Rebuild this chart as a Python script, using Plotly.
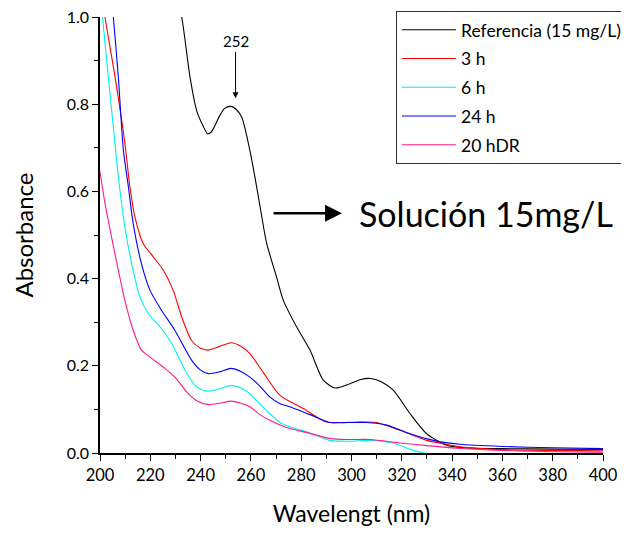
import plotly.graph_objects as go

# ---- data ----
ref_x = [228, 232.5, 235.8, 238.4, 241, 242.8, 244, 245.1, 247.7, 249.7, 252.1, 254, 256.3, 259.6, 263, 266.3,
         270.2, 272.9, 278.2, 283.5, 288.8, 293.5, 299.4, 303.4, 307.4, 312, 316.6, 323.3, 329.9,
         337.8, 345, 360, 380, 400]
ref_y = [1.12, 1.0, 0.862, 0.786, 0.75, 0.732, 0.735, 0.744, 0.775, 0.791, 0.795, 0.789, 0.771, 0.694, 0.587, 0.48,
         0.404, 0.35, 0.289, 0.236, 0.167, 0.149, 0.159, 0.168, 0.171, 0.163, 0.144, 0.090, 0.044,
         0.018, 0.012, 0.010, 0.009, 0.008]

h3_x = [201.5, 202, 206, 209.9, 211.9, 213.9, 217.2, 221.2, 225.2, 229.1, 232.5, 236.4, 240, 243.1,
        247.5, 252.1, 256, 259.6, 264.9, 271.6, 280.8, 290.1, 296, 303.4, 310, 319.3, 329.9, 337.8,
        345, 360, 380, 400]
h3_y = [1.03, 1.0, 0.862, 0.71, 0.61, 0.541, 0.48, 0.45, 0.419, 0.373, 0.312, 0.258, 0.24, 0.236,
        0.244, 0.253, 0.245, 0.228, 0.185, 0.132, 0.102, 0.071, 0.07, 0.071, 0.07, 0.052, 0.029, 0.02,
        0.013, 0.008, 0.006, 0.005]

h6_x = [200.6, 201, 203.3, 205.3, 207.3, 209.9, 212.6, 215.9, 219.2, 223.9, 228.5, 233.8, 237.8, 240.5,
        243.1, 247.5, 252.1, 256, 259.6, 263.6, 267.6, 271.6, 275.5, 283.5, 291.5, 299.5, 307.4, 316.6,
        324.6, 332.5, 340, 350, 370, 400]
h6_y = [1.03, 1.0, 0.862, 0.748, 0.633, 0.518, 0.434, 0.358, 0.32, 0.289, 0.251, 0.19, 0.155, 0.145,
        0.142, 0.147, 0.155, 0.149, 0.136, 0.112, 0.09, 0.07, 0.06, 0.046, 0.029, 0.027, 0.029, 0.023,
        0.006, -0.005, -0.015, -0.025, -0.03, -0.03]

h24_x = [204.8, 205.3, 207.3, 209.3, 211.3, 213.2, 216.5, 219.9, 224.5, 229.8, 236.4, 240, 243.1, 247.5,
         252.1, 256, 259.6, 263.6, 267.6, 271.6, 275.5, 283.5, 291.5, 299, 306, 314, 323.3, 332.5, 343,
         360, 380, 400]
h24_y = [1.03, 1.0, 0.862, 0.694, 0.61, 0.526, 0.434, 0.373, 0.327, 0.281, 0.213, 0.19, 0.182, 0.186,
         0.194, 0.187, 0.174, 0.153, 0.128, 0.113, 0.106, 0.088, 0.07, 0.07, 0.07, 0.064, 0.044, 0.029, 0.02,
         0.015, 0.012, 0.010]

hdr_x = [200, 202, 204.6, 207.3, 209.9, 213.2, 216.5, 220.6, 225.8, 229.8, 235.1, 239, 243.1, 247.5,
         252.1, 256, 259.6, 263.6, 267.6, 271.6, 275.5, 283.5, 291.5, 299.5, 307.4, 319.3, 329.9, 341.6,
         360, 380, 400]
hdr_y = [0.645, 0.572, 0.495, 0.419, 0.35, 0.281, 0.236, 0.217, 0.194, 0.174, 0.136, 0.118, 0.111, 0.114,
         0.119, 0.114, 0.106, 0.088, 0.075, 0.064, 0.056, 0.045, 0.033, 0.031, 0.031, 0.023, 0.017, 0.011,
         0.006, 0.003, 0.002]

names = ["Referencia (15 mg/L)", "3 h", "6 h", "24 h", "20 hDR"]
colors = ["#000000", "#FF0000", "#00F0F0", "#0000FF", "#FF1A8C"]
xs_all = [ref_x, h3_x, h6_x, h24_x, hdr_x]
ys_all = [ref_y, h3_y, h6_y, h24_y, hdr_y]

peak_label = "252"
peak_x = 253.9
peak_y = 0.8135
sol_text = "Solución 15mg/L"

FONT = "Lato"

fig = go.Figure()
for i in range(len(names)):
    fig.add_trace(go.Scatter(
        x=xs_all[i], y=ys_all[i], mode="lines", name=names[i], legendgroup=f"g{i}",
        line=dict(color=colors[i], width=1.1, shape="spline", smoothing=0.7),
    ))

# page body has an 8px default margin, so the figure is laid out 8px smaller
fig.update_layout(
    width=621, height=527,
    margin=dict(l=92, r=26, t=9, b=82, autoexpand=False),
    plot_bgcolor="white", paper_bgcolor="white",
    font=dict(family=FONT, color="black", size=15),
    showlegend=True,
    legend=dict(
        x=0.5885, y=1.014, xanchor="left", yanchor="top",
        bordercolor="#333333", borderwidth=1, bgcolor="white",
        font=dict(family=FONT, size=17.5, color="black"),
        tracegroupgap=3, itemwidth=54,
    ),
)

fig.update_xaxes(
    range=[200, 400], showgrid=False, zeroline=False, automargin=False,
    showline=True, linecolor="black", linewidth=1.5, ticklabeloverflow="allow",
    ticks="outside", ticklen=6, tickwidth=1.3, tickcolor="black",
    dtick=20, tick0=200,
    tickfont=dict(family=FONT, size=16.5),
    minor=dict(ticks="outside", ticklen=4, tickwidth=1.2, tickcolor="black", dtick=10),
    title=dict(text="Wavelengt (nm)", font=dict(family=FONT, size=23), standoff=22),
)
fig.update_yaxes(
    range=[0, 1.0], showgrid=False, zeroline=False, automargin=False,
    showline=True, linecolor="black", linewidth=1.5, ticklabeloverflow="allow",
    ticks="outside", ticklen=6, tickwidth=1.3, tickcolor="black",
    dtick=0.2, tick0=0, tickformat=".1f",
    tickfont=dict(family=FONT, size=16),
    minor=dict(ticks="outside", ticklen=4, tickwidth=1.2, tickcolor="black", dtick=0.1),
    title=dict(text="Absorbance", font=dict(family=FONT, size=24), standoff=26),
)

# peak marker "252"
fig.add_annotation(
    x=peak_x, y=peak_y, xref="x", yref="y", text=peak_label,
    showarrow=True, arrowhead=2, arrowsize=1.2, arrowwidth=1, arrowcolor="black",
    ax=0, ay=-57, font=dict(family=FONT, size=15, color="black"),
)
# big arrow
fig.add_annotation(
    x=296.2, y=0.55, xref="x", yref="y", ax=268.4, ay=0.55, axref="x", ayref="y",
    text="", showarrow=True, arrowhead=2, arrowsize=1.3, arrowwidth=2.6, arrowcolor="black",
)
fig.add_annotation(
    x=302, y=0.55, xref="x", yref="y", text=sol_text, showarrow=False,
    xanchor="left", yanchor="middle", font=dict(family=FONT, size=34, color="black"),
)

fig.write_html("out.html")
